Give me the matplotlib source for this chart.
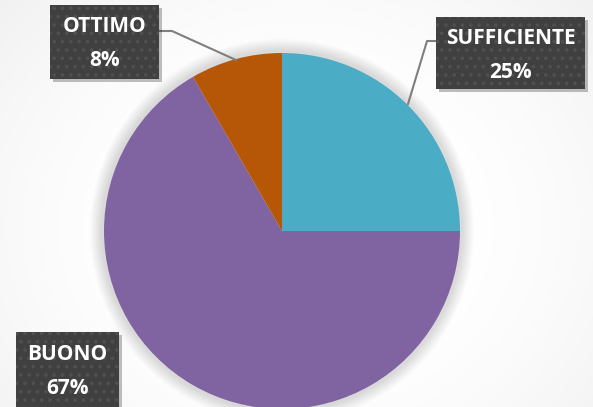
import numpy as np
import matplotlib.pyplot as plt
from matplotlib.patches import Rectangle, Circle

plt.rcParams['font.family'] = ['Open Sans', 'DejaVu Sans']
plt.rcParams['hatch.color'] = '#505050'
plt.rcParams['hatch.linewidth'] = 1.4

categories = ['SUFFICIENTE', 'BUONO', 'OTTIMO']
values = [3, 8, 1]
colors = ['#4BACC6', '#8064A2', '#B65708']

W, H = 593, 407
fig = plt.figure(figsize=(W / 100, H / 100), dpi=100)
ax = fig.add_axes([0, 0, 1, 1])
ax.set_xlim(0, W)
ax.set_ylim(0, H)
ax.set_aspect('equal')
ax.axis('off')

# soft radial background
yy, xx = np.mgrid[0:H, 0:W]
d = np.sqrt(((xx - 300) / 330.0) ** 2 + ((yy - 180) / 280.0) ** 2)
bg = 1.0 - 0.08 * np.clip(d - 0.45, 0, None) ** 1.5
ax.imshow(np.dstack([bg, bg, bg]), extent=[0, W, 0, H], origin='lower', zorder=0)

cx, cy, r = 282, 176, 178

# glow behind the pie
for k in range(12):
    ax.add_patch(Circle((cx, cy), r + 14 - k, color='#000000', alpha=0.012, lw=0, zorder=1))

total = sum(values)
wedges, _ = ax.pie(values, colors=colors, startangle=90, counterclock=False,
                   center=(cx, cy), radius=r, frame=True,
                   wedgeprops=dict(linewidth=0))
for w in wedges:
    w.set_zorder(2)
ax.set_xlim(0, W)
ax.set_ylim(0, H)
ax.axis('off')

pcts = ['{:.0f}%'.format(100 * v / total) for v in values]

# label boxes: (x0, y0 top, width, height) in pixels
boxes = {
    'SUFFICIENTE': (436, 17, 149, 72),
    'BUONO': (16, 332, 103, 80),
    'OTTIMO': (50, 5, 109, 74),
}
leaders = {
    'SUFFICIENTE': [(436, 41), (427, 41), (408, 104)],
    'OTTIMO': [(159, 31), (172, 31), (236, 60)],
}

for name, pct in zip(categories, pcts):
    x0, yt, bw, bh = boxes[name]
    y0 = H - yt - bh
    ax.add_patch(Rectangle((x0 + 3, y0 - 3), bw, bh, facecolor='#000000', alpha=0.25,
                           lw=0, zorder=4))
    ax.add_patch(Rectangle((x0, y0), bw, bh, facecolor='#404040', edgecolor='#505050',
                           hatch='..', lw=0, zorder=5))
    tx = x0 + bw / 2
    ty1 = H - yt - 22
    ax.text(tx, ty1, name, color='white', fontsize=15, fontweight='bold',
            ha='center', va='center', zorder=6)
    ax.text(tx, ty1 - 34, pct, color='white', fontsize=15, fontweight='bold',
            ha='center', va='center', zorder=6)
    if name in leaders:
        pts = leaders[name]
        ax.plot([p[0] for p in pts], [H - p[1] for p in pts], color='#7f7f7f',
                lw=1.5, zorder=3)

fig.savefig('out.png', dpi=100)
